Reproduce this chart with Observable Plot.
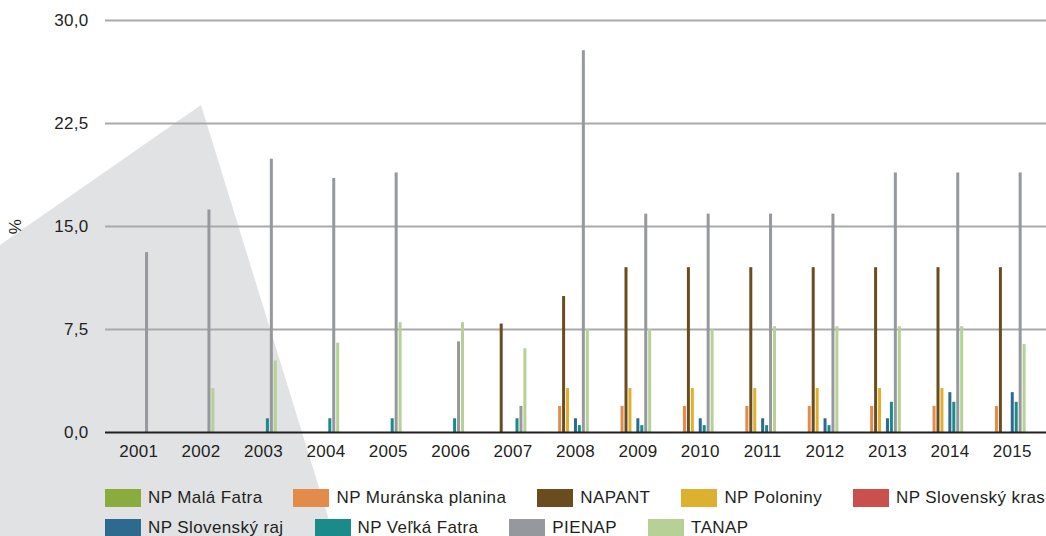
<!DOCTYPE html>
<html>
<head>
<meta charset="utf-8">
<script src="https://cdn.jsdelivr.net/npm/d3@7"></script>
<script src="https://cdn.jsdelivr.net/npm/@observablehq/plot@0.6"></script>
<style>
  html, body { margin: 0; padding: 0; background: #fff; }
  #wrap { position: relative; width: 1046px; height: 536px; overflow: hidden; font-family: "Liberation Sans", Arial, sans-serif; color: #231f20; }
  #deco { position: absolute; left: 0; top: 0; z-index: 0; }
  #chart { position: relative; z-index: 1; }
  #legend { position: relative; z-index: 1; margin-top: 27px; padding-left: 105px; font-size: 17px; letter-spacing: 0.4px; }
  .row { display: flex; column-gap: 31px; height: 18px; margin-bottom: 12px; white-space: nowrap; }
  .item { display: flex; align-items: center; line-height: 18px; }
  .sw { width: 36px; height: 18px; margin-right: 7px; flex: none; }
</style>
</head>
<body>
<div id="wrap">
  <svg id="deco" width="1046" height="536"><polygon points="0,245 201,105 334,536 0,536" fill="#e1e2e4"/></svg>
  <div id="chart"></div>
  <div id="legend"></div>
</div>
<script>
const years = [2001, 2002, 2003, 2004, 2005, 2006, 2007, 2008, 2009, 2010, 2011, 2012, 2013, 2014, 2015];
const seriesNames = ["NP Malá Fatra", "NP Muránska planina", "NAPANT", "NP Poloniny", "NP Slovenský kras", "NP Slovenský raj", "NP Veľká Fatra", "PIENAP", "TANAP"];
const seriesColors = ["#8aac3f", "#e38b4a", "#6b4c1e", "#ddb12f", "#c9504c", "#2d6a8e", "#1b8a8a", "#95989d", "#b6d095"];

const malaFatra     = [null, null, null, null, null, null, null, null, null, null, null, null, null, null, null];
const muranska      = [null, null, null, null, null, null, null, 1.9, 1.9, 1.9, 1.9, 1.9, 1.9, 1.9, 1.9];
const napant        = [null, null, null, null, null, null, 7.9, 9.9, 12.0, 12.0, 12.0, 12.0, 12.0, 12.0, 12.0];
const poloniny      = [null, null, null, null, null, null, null, 3.2, 3.2, 3.2, 3.2, 3.2, 3.2, 3.2, null];
const slovenskyKras = [null, null, null, null, null, null, null, null, null, null, null, null, null, null, null];
const slovenskyRaj  = [null, null, null, null, null, null, null, 1.0, 1.0, 1.0, 1.0, 1.0, 1.0, 2.9, 2.9];
const velkaFatra    = [null, null, 1.0, 1.0, 1.0, 1.0, 1.0, 0.5, 0.5, 0.5, 0.5, 0.5, 2.2, 2.2, 2.2];
const pienap        = [13.1, 16.2, 19.9, 18.5, 18.9, 6.6, 1.9, 27.8, 15.9, 15.9, 15.9, 15.9, 18.9, 18.9, 18.9];
const tanap         = [null, 3.2, 5.2, 6.5, 8.0, 8.0, 6.1, 7.5, 7.5, 7.5, 7.7, 7.7, 7.7, 7.7, 6.4];

const seriesValues = [malaFatra, muranska, napant, poloniny, slovenskyKras, slovenskyRaj, velkaFatra, pienap, tanap];
const yTicks = [0, 7.5, 15, 22.5, 30];

const font = "Liberation Sans, Arial, sans-serif";
const barW = 3;
const bandStep = (1046 - 105 - 5) / years.length;
const inset = (bandStep - barW) / 2;

const barMarks = seriesNames.map((name, i) => {
  const rows = years.map((year, j) => ({year, value: seriesValues[i][j]})).filter(d => d.value != null);
  return Plot.barY(rows, {
    x: "year", y: "value", fill: seriesColors[i],
    insetLeft: inset, insetRight: inset,
    dx: (i - 4) * 3.95 - 3.5
  });
});

const chart = Plot.plot({
  width: 1046,
  height: 462,
  marginLeft: 105,
  marginRight: 0,
  marginTop: 20,
  marginBottom: 30,
  style: {background: "transparent", fontFamily: font, fontSize: "17px", color: "#231f20"},
  x: {type: "band", domain: years, padding: 0, round: false, insetLeft: 2, insetRight: 3},
  y: {domain: [0, 30]},
  marks: [
    Plot.ruleY(yTicks.filter(t => t > 0), {stroke: "#a7a9ac", strokeWidth: 1.8}),
    ...barMarks,
    Plot.ruleY([0], {stroke: "#231f20", strokeWidth: 2}),
    Plot.axisX({tickSize: 0, tickPadding: 12, label: null, fontSize: 17, fill: "#231f20", tickFormat: d => String(d)}),
    Plot.axisY({ticks: yTicks, tickSize: 0, tickPadding: 17, fontSize: 17, fill: "#231f20",
      tickFormat: d => d.toFixed(1).replace(".", ","),
      label: "%", labelAnchor: "center", labelArrow: "none", labelOffset: 97})
  ]
});
chart.style.letterSpacing = "0.3px";
document.getElementById("chart").appendChild(chart);

const legend = document.getElementById("legend");
const rowsSpec = [[0, 1, 2, 3, 4], [5, 6, 7, 8]];
for (const r of rowsSpec) {
  const row = document.createElement("div");
  row.className = "row";
  for (const i of r) {
    const item = document.createElement("div");
    item.className = "item";
    const sw = document.createElement("span");
    sw.className = "sw";
    sw.style.background = seriesColors[i];
    const tx = document.createElement("span");
    tx.textContent = seriesNames[i];
    item.appendChild(sw);
    item.appendChild(tx);
    row.appendChild(item);
  }
  legend.appendChild(row);
}
</script>
</body>
</html>
